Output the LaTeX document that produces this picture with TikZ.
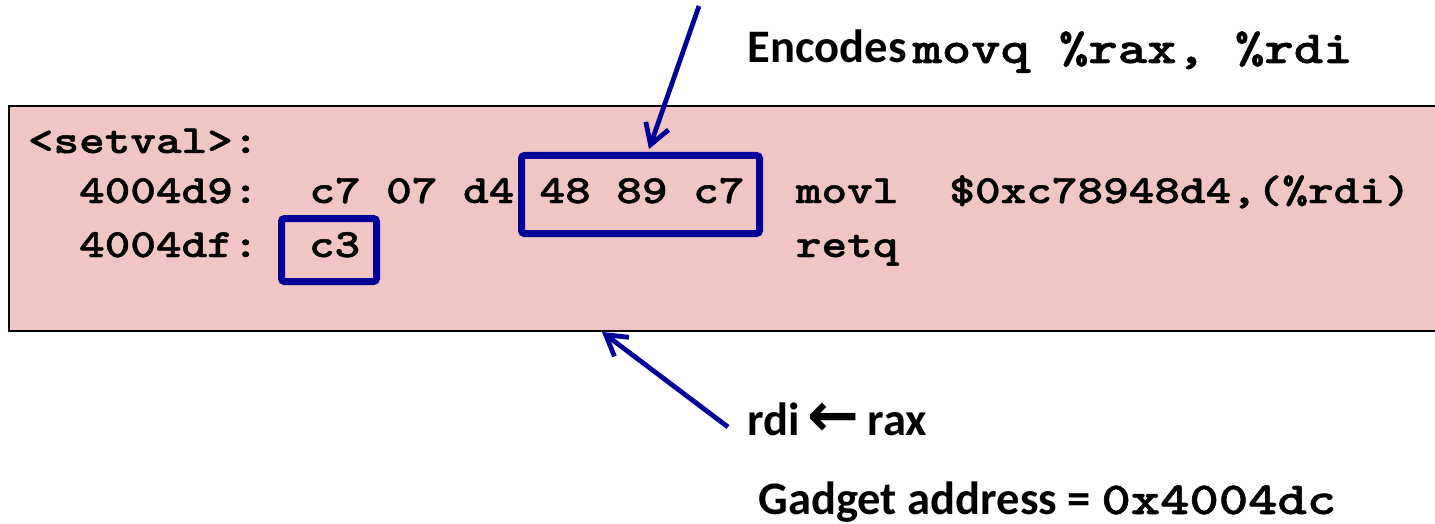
\documentclass[tikz,border=0pt]{standalone}
\usepackage{fontspec}
\usetikzlibrary{arrows.meta,calc}
\newfontfamily\calibfont{Carlito}
\newfontfamily\arrowfont{DejaVu Sans}
\newfontfamily\codefont{lmmonolt10-bold.otf}[FakeStretch=1.22,FakeBold=1.2]
\definecolor{pinkfill}{RGB}{242,197,197}
\definecolor{navyblue}{RGB}{0,0,153}
\begin{document}
\begin{tikzpicture}[x=0.5pt,y=-0.5pt,
  code/.style={font=\codefont\fontsize{20}{24}\selectfont, anchor=base west, inner sep=0pt},
  caption/.style={font=\calibfont\bfseries\fontsize{23.3}{28}\selectfont, anchor=base west, inner sep=0pt},
  hl/.style={draw=navyblue, line width=3.5pt, rounded corners=1.5pt, inner sep=0pt,
             font=\codefont\fontsize{20}{24}\selectfont},
  pointer/.style={draw=navyblue, line width=2.4pt, -{Straight Barb[length=10pt,width=12pt]}}]
\useasboundingbox (0,0) rectangle (1435,524);
% code panel
\node[draw=black, line width=1pt, fill=pinkfill, minimum width=718.5pt, minimum height=112.5pt,
      anchor=north west, inner sep=0pt] (codebox) at (8,105) {};
% code lines
\node[code] (setval) at (27.5,153) {<setval>:};
\node[code] (addr1) at (78.7,203) {4004d9:};
\node[code] (bytes1) at (309,203) {c7 07 d4};
\node[code] (ins1) at (795.5,203) {movl};
\node[code] (ops1) at (949,203) {\$0xc78948d4,(\%rdi)};
\node[code] (addr2) at (78.7,257) {4004df:};
\node[code] (ins2) at (795.5,257) {retq};
% highlight boxes
\node[hl, minimum width=119pt, minimum height=39pt, text height=12.2pt, text depth=3.7pt]
  (box2) at (640.5,194.5) {\hspace*{1.5pt}48 89 c7};
\node[hl, minimum width=47.5pt, minimum height=31.5pt, text height=12.2pt, text depth=5.2pt]
  (box3) at (329,250) {\hspace*{5.6pt}c3};
% captions
\node[caption] (enc) at (747,63) {Encodes\hspace{3pt}{\codefont\fontsize{22.9}{27}\selectfont movq \%rax, \%rdi}};
\node[caption] (rdi) at (747,435) {rdi\hspace{4pt}{\arrowfont\fontsize{31}{34}\selectfont\raisebox{-0.5pt}{←}}\hspace{4pt}rax};
\node[caption] (gadget) at (758,514) {Gadget address = {\codefont\fontsize{22.9}{27}\selectfont 0x4004dc}};
% pointers
\coordinate (a1) at (699,6);
\coordinate (t1x) at (648,0);
\coordinate (a2) at (728,427);
\coordinate (t2x) at (602,0);
\draw[pointer, shorten >=1.5pt] (a1) -- (box2.north -| t1x);
\draw[pointer] (a2) -- (codebox.south -| t2x);
\end{tikzpicture}
\end{document}
